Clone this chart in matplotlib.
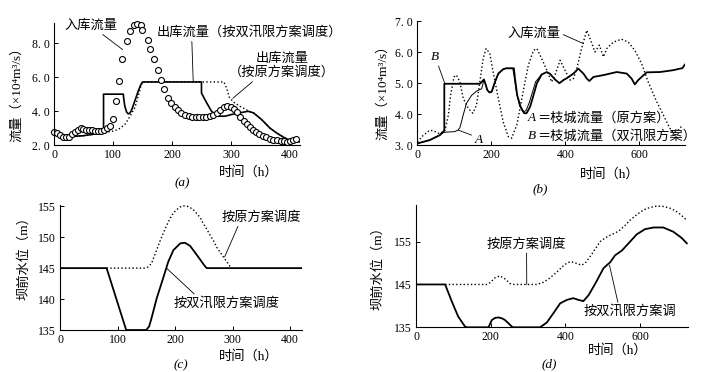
import numpy as np
import matplotlib
matplotlib.use('Agg')
import matplotlib.pyplot as plt

plt.rcParams['font.family'] = ['Liberation Serif', 'Noto Sans CJK SC', 'DejaVu Serif']

# ---------------- (a) 流量过程 ----------------
in_t = [0, 5, 10, 15, 20, 25, 30, 35, 40, 45, 50, 55, 60, 65, 70, 75, 80, 85, 90, 95,
        100, 105, 110, 115, 123, 129, 135, 141, 147, 150, 159, 163, 169, 176, 181, 187,
        194, 199, 205, 211, 216, 222, 228, 234, 240, 246, 252, 258, 264, 270, 276, 282,
        288, 294, 300, 305, 310, 316, 322, 327, 332, 337, 342, 348, 354, 360, 366, 372,
        378, 384, 390, 395, 400, 405, 410]
in_q = [2.75, 2.68, 2.58, 2.5, 2.47, 2.5, 2.62, 2.75, 2.9, 2.98, 2.96, 2.9, 2.88, 2.86,
        2.84, 2.84, 2.85, 2.88, 2.98, 3.1, 3.55, 4.6, 5.8, 7.1, 8.14, 8.73, 9.1, 9.16,
        9.06, 8.78, 8.22, 7.69, 7.1, 6.41, 5.86, 5.29, 4.8, 4.5, 4.25, 4.05, 3.9, 3.78,
        3.7, 3.66, 3.64, 3.63, 3.64, 3.66, 3.7, 3.76, 3.88, 4.05, 4.22, 4.3, 4.26, 4.12,
        3.92, 3.65, 3.42, 3.25, 3.08, 2.88, 2.75, 2.62, 2.52, 2.45, 2.38, 2.32, 2.28,
        2.25, 2.22, 2.2, 2.22, 2.3, 2.35]

out2_t = [0, 8, 16, 30, 50, 70, 84, 84, 117.5, 118, 120, 123, 126, 129, 132, 137, 143,
          147, 150, 250, 250, 254, 259, 267, 278, 290, 301, 315, 329, 338, 352, 366,
          377, 389, 397, 408, 417]
out2_q = [2.72, 2.6, 2.52, 2.5, 2.55, 2.65, 2.75, 5.0, 5.0, 4.8, 4.3, 3.95, 3.83, 3.9,
          4.1, 4.6, 5.2, 5.55, 5.72, 5.72, 5.07, 4.8, 4.48, 3.99, 3.7, 3.7, 3.8, 3.9,
          3.99, 3.9, 3.5, 3.0, 2.72, 2.46, 2.32, 2.22, 2.19]

out1_t = [0, 8, 16, 30, 50, 70, 84, 98, 109, 120, 129, 137, 143, 147, 150, 288, 293,
          297, 304, 315, 323, 330, 338, 352, 366, 377, 389, 397, 408, 417]
out1_q = [2.72, 2.6, 2.52, 2.5, 2.55, 2.65, 2.75, 2.8, 2.92, 3.2, 3.7, 4.2, 4.9, 5.45,
          5.72, 5.72, 5.32, 4.83, 4.54, 4.29, 4.14, 4.0, 3.9, 3.5, 3.0, 2.72, 2.46,
          2.32, 2.22, 2.19]

# ---------------- (b) 枝城流量 ----------------
b_in_t = [0, 15, 34, 45, 61, 75, 84, 90, 99, 106, 115, 124, 138, 150, 160, 169, 178,
          186, 196, 205, 219, 232, 246, 255, 269, 286, 300, 314, 323, 336, 350, 363,
          372, 386, 399, 413, 422, 431, 444, 458, 467, 480, 492, 503, 512, 530, 552,
          570, 588, 606, 624, 647, 665, 678, 687, 697, 707, 717]
b_in_q = [3.1, 3.3, 3.48, 3.45, 3.36, 3.48, 3.97, 4.61, 5.2, 5.26, 5.04, 4.51, 4.18,
          4.03, 4.29, 5.04, 5.8, 6.12, 5.96, 5.36, 4.51, 3.75, 3.27, 3.22, 3.65, 4.72,
          5.58, 6.06, 6.12, 5.8, 5.42, 5.04, 5.26, 5.74, 5.42, 5.1, 5.15, 5.47, 6.12,
          6.71, 6.44, 6.01, 6.23, 5.85, 6.12, 6.33, 6.42, 6.33, 6.06, 5.64, 5.04, 4.4,
          3.97, 3.65, 3.45, 3.4, 3.5, 3.65]

b_B_t = [0, 34, 61, 70, 73, 73, 169, 175, 180, 185, 189, 195, 201, 210, 219, 232, 240,
         261, 264, 270, 279, 288, 292, 296, 305, 314, 323, 336, 350, 359, 372, 384,
         395, 404, 422, 435, 449, 458, 465, 476, 503, 539, 566, 579, 588, 597, 620,
         656, 692, 710, 716, 723]
b_B_q = [3.05, 3.16, 3.32, 3.43, 3.47, 4.98, 4.98, 5.05, 5.12, 4.95, 4.78, 4.7, 4.72,
         5.04, 5.31, 5.45, 5.48, 5.48, 5.15, 4.61, 4.24, 4.04, 4.02, 4.04, 4.24, 4.61,
         4.99, 5.28, 5.36, 5.3, 5.12, 5.0, 5.1, 5.16, 5.31, 5.47, 5.31, 5.15, 5.07,
         5.2, 5.26, 5.36, 5.31, 5.15, 4.96, 5.1, 5.35, 5.36, 5.42, 5.47, 5.48, 5.6]

b_A_t = [0, 34, 61, 70, 80, 100, 110, 115, 120, 124, 133, 147, 160, 174, 180, 185, 189,
         195, 201, 210, 219, 232, 240, 258, 262, 268, 276, 284, 289, 294, 302, 311,
         320, 336]
b_A_q = [3.05, 3.16, 3.32, 3.4, 3.42, 3.43, 3.48, 3.56, 3.78, 3.97, 4.35, 4.61, 4.74,
         4.82, 5.1, 4.95, 4.78, 4.7, 4.72, 5.04, 5.31, 5.45, 5.48, 5.48, 5.2, 4.7, 4.3,
         4.1, 4.08, 4.12, 4.35, 4.7, 5.05, 5.28]

# ---------------- (c) 坝前水位 ----------------
c_dual_t = [0, 81, 115, 150, 155, 159, 168, 180, 188, 197, 209, 217, 226, 238, 248,
            252, 255, 420]
c_dual_h = [145, 145, 135, 135, 135.6, 136.9, 140.1, 143.6, 146, 147.9, 149, 149.1,
            148.6, 147.1, 145.8, 145.3, 145, 145]
c_orig_t = [81, 148, 153, 159, 165, 171, 177, 183, 189, 194, 200, 206, 211, 216, 221,
            226, 232, 238, 244, 249, 255, 261, 267, 272, 278, 284, 290, 296, 298]
c_orig_h = [145, 145, 145.2, 145.75, 147.2, 148.7, 150.1, 151.4, 152.6, 153.5, 154.2,
            154.7, 155.0, 155.05, 155.0, 154.8, 154.4, 153.8, 153.1, 152.2, 151.3,
            150.3, 149.4, 148.4, 147.6, 146.8, 146.0, 145.2, 145.0]

# ---------------- (d) 坝前水位 ----------------
d_dual_t = [0, 78, 96, 113, 131, 136, 194, 203, 212, 221, 230, 238, 247, 256, 260, 332,
            350, 368, 386, 404, 421, 435, 448, 462, 480, 502, 520, 533, 551, 569, 591,
            613, 636, 662, 689, 712, 725]
d_dual_h = [145, 145, 141, 137.5, 135.2, 135, 135, 136.7, 137.2, 137.3, 137.1, 136.7,
            136, 135.2, 135, 135, 136.1, 138.3, 140.6, 141.4, 141.8, 141.4, 141.1,
            142.5, 145.2, 148.8, 150.2, 151.8, 152.9, 154.6, 156.7, 157.9, 158.3,
            158.3, 157.3, 155.8, 154.6]
d_orig_t = [78, 189, 198, 212, 225, 240, 252, 262, 323, 341, 355, 368, 382, 395, 406,
            417, 430, 444, 455, 466, 480, 493, 507, 520, 533, 546, 560, 573, 591, 609,
            627, 645, 663, 680, 695, 707, 725]
d_orig_h = [145, 145, 145.4, 146.6, 147.0, 146.2, 145.2, 145, 145, 145.5, 146.3, 147.2,
            148.3, 149.4, 150.1, 150.3, 149.9, 149.5, 150.2, 151.5, 153.3, 155, 155.9,
            156.5, 157, 157.7, 158.8, 160, 161.3, 162.4, 163, 163.3, 163.2, 162.8,
            162.2, 161.4, 160]

CJK = 9.5
TICK = 8.5
W, H = 711, 372
QLABEL = '流量（×10⁴m³/s）'
HLABEL = '坝前水位（m）'


def make_ax(fig, x0, y_bottom, x1, y_top):
    ax = fig.add_axes([x0 / W, (H - y_bottom) / H, (x1 - x0) / W, (y_bottom - y_top) / H])
    for s in ('top', 'right'):
        ax.spines[s].set_visible(False)
    for s in ('left', 'bottom'):
        ax.spines[s].set_linewidth(0.8)
    ax.tick_params(direction='in', length=3, width=0.7, labelsize=TICK, pad=3)
    return ax


def lead(ax, text, xy, xytext, rel, **kw):
    ax.annotate(text, xy=xy, xytext=xytext, fontsize=CJK, ha='center', va='center',
                arrowprops=dict(arrowstyle='-', lw=0.6, color='k', relpos=rel,
                                shrinkA=0, shrinkB=0), **kw)


def labels(ax, xl, tag, yl, ylab):
    ax.text(xl[0], xl[1], '时间（h）', transform=ax.transAxes, fontsize=CJK,
            ha='center', va='center')
    ax.text(tag[0], tag[1], '(' + tag[2] + ')', transform=ax.transAxes, fontsize=CJK,
            style='italic', ha='center', va='center')
    ax.text(yl[0], yl[1], ylab, transform=ax.transAxes, fontsize=CJK,
            rotation=90, ha='center', va='center')


fig = plt.figure(figsize=(7.11, 3.72), dpi=100)

# (a)
ax = make_ax(fig, 54, 145, 300, 23)
ax.plot(out1_t, out1_q, color='k', ls=':', lw=1.0)
ax.plot(out2_t, out2_q, color='k', lw=1.2)
ax.plot(in_t, in_q, 'o', ms=4.3, mfc='white', mec='k', mew=0.8, clip_on=False)
ax.set_xlim(0, 417)
ax.set_ylim(2.0, 9.2)
ax.set_xticks([0, 100, 200, 300, 400])
ax.set_yticks([2, 4, 6, 8])
ax.set_yticklabels(['2. 0', '4. 0', '6. 0', '8. 0'])
lead(ax, '入库流量', (116.4, 7.63), (63, 9.05), (0.65, 0))
lead(ax, '出库流量（按双汛限方案调度）', (236, 5.72), (331, 8.65), (0.19, 0))
lead(ax, '出库流量\n（按原方案调度）', (303, 4.75), (387, 6.7), (0.25, 0))
labels(ax, (0.79, -0.22), (0.52, -0.31, 'a'), (-0.15, 0.44), QLABEL)

# (b)
ax = make_ax(fig, 417.3, 145, 685, 20.7)
ax.plot(b_in_t, b_in_q, color='k', ls=':', lw=1.0)
ax.plot(b_A_t, b_A_q, color='k', lw=0.7)
ax.plot(b_B_t, b_B_q, color='k', lw=1.3)
ax.set_xlim(0, 723.5)
ax.set_ylim(3.0, 7.02)
ax.set_xticks([0, 200, 400, 600])
ax.set_yticks([3, 4, 5, 6, 7])
ax.set_yticklabels(['3. 0', '4. 0', '5. 0', '6. 0', '7. 0'])
lead(ax, 'B', (74, 5.0), (48, 5.84), (0.8, 0), style='italic')
lead(ax, 'A', (111, 3.48), (165, 3.16), (0.1, 0.8), style='italic')
lead(ax, '入库流量', (449, 6.28), (315, 6.61), (1, 0.5))
for y, name in ((3.87, '＝枝城流量（原方案）'), (3.29, '＝枝城流量（双汛限方案）')):
    ax.text(299, y, 'AB'[y < 3.5], fontsize=CJK, style='italic', ha='left', va='center')
    ax.annotate(name, xy=(299, y), xytext=(7, 0), textcoords='offset points',
                fontsize=CJK, ha='left', va='center')
labels(ax, (0.72, -0.233), (0.46, -0.36, 'b'), (-0.128, 0.45), QLABEL)

# (c)
ax = make_ax(fig, 60, 330, 301.7, 205)
ax.plot(c_orig_t, c_orig_h, color='k', ls=':', lw=1.0)
ax.plot(c_dual_t, c_dual_h, color='k', lw=1.3)
ax.set_xlim(0, 420)
ax.set_ylim(135, 155.2)
ax.set_xticks([0, 100, 200, 300, 400])
ax.set_yticks([135, 140, 145, 150, 155])
lead(ax, '按原方案调度', (286, 146.8), (350, 153.2), (0.22, 0))
lead(ax, '按双汛限方案调度', (185, 145.0), (290, 139.35), (0.22, 1))
labels(ax, (0.78, -0.21), (0.50, -0.285, 'c'), (-0.149, 0.6), HLABEL)

# (d)
ax = make_ax(fig, 416, 327.3, 688.3, 205.2)
ax.plot(d_orig_t, d_orig_h, color='k', ls=':', lw=1.0)
ax.plot(d_dual_t, d_dual_h, color='k', lw=1.3)
ax.set_xlim(0, 729)
ax.set_ylim(135, 163.5)
ax.set_xticks([0, 200, 400, 600])
ax.set_yticks([135, 145, 155])
lead(ax, '按原方案调度', (296.5, 145.0), (296, 154.4), (0.5, 0))
lead(ax, '按双汛限方案调', (518, 149.5), (572, 138.7), (0.38, 1))
labels(ax, (0.74, -0.19), (0.49, -0.3, 'd'), (-0.14, 0.51), HLABEL)

fig.savefig('out.png', dpi=100)
